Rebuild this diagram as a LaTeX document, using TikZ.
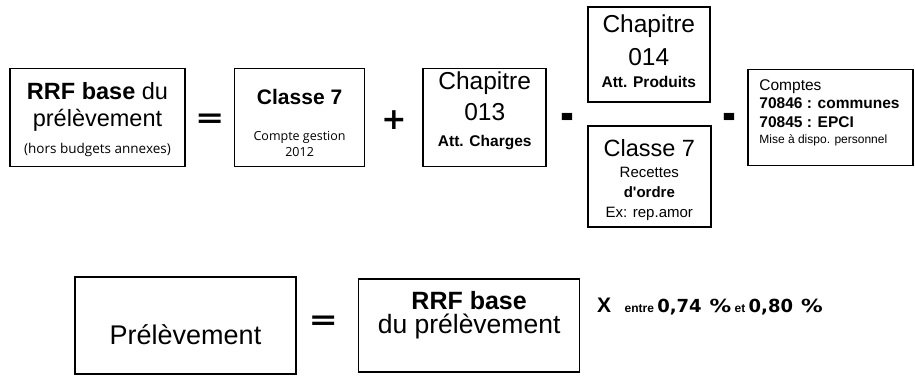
\documentclass[tikz,border=0pt]{standalone}
\usepackage{graphicx}
\usepackage{fontspec}
\setmainfont{Liberation Sans}
\newfontfamily\humfont{Open Sans}
\newfontfamily\widefont{DejaVu Sans}
\usetikzlibrary{positioning, calc}

\newcommand{\fsz}[2]{\fontsize{#1}{#2}\selectfont}

\begin{document}
\begin{tikzpicture}[
  x=1pt, y=-1pt,
  box/.style={rectangle, draw, line width=1.6pt, minimum height=98pt, inner sep=0pt},
  txt/.style={align=center, inner sep=0pt},
  sign/.style={font=\widefont\bfseries\fsz{28}{30}, inner sep=0pt}
]
  \useasboundingbox (0,0) rectangle (915,376);

  % Ligne du haut
  \node[box, minimum width=175pt] (rrf) at (97.5,117.5) {};
  \node[box, minimum width=130pt, right=48pt of rrf] (cl7) {};
  \node[box, minimum width=123pt, right=57pt of cl7] (ch13) {};
  \node[box, minimum width=122pt, minimum height=95pt, right=40pt of ch13, yshift=63pt] (ch14) {};
  \node[box, minimum width=123pt, minimum height=101pt, right=40pt of ch13, yshift=-59pt] (rec) {};
  \node[box, minimum width=165pt, minimum height=96pt] (cpt) at (830.5,117.5) {};

  \node[txt, font=\fsz{23.5}{27}] (rrftxt) at ([yshift=-2.5pt]rrf.center)
    {\textbf{RRF base} du\\prélèvement\\{\humfont\fsz{13.5}{16}(hors budgets annexes)}};
  \node[txt, font=\humfont\fsz{12.5}{16}] (cl7txt) at ([yshift=-5.5pt]cl7.center)
    {{\rmfamily\bfseries\fsz{21}{24}Classe 7}\\[20.5pt]Compte gestion\\2012};
  \node[txt, font=\fsz{24.5}{29}] (ch13txt) at ([yshift=6.8pt]ch13.center)
    {Chapitre\\[2pt]013\\[-3pt]{\bfseries\fsz{15.5}{18}Att. Charges}};
  \node[txt, font=\fsz{24.5}{27}] (ch14txt) at ([yshift=3.2pt]ch14.center)
    {Chapitre\\[6pt]014\\[-5.5pt]{\bfseries\fsz{15.5}{18}Att. Produits}};
  \node[txt, font=\fsz{15}{20}] (rectxt) at ([yshift=-3.7pt]rec.center)
    {{\fsz{23.5}{27}Classe 7}\\[1pt]Recettes\\\textbf{d\textquotesingle ordre}\\Ex: rep.amor};
  \node[txt, align=left, anchor=west, font=\fsz{15.5}{18.5}] (cpttxt) at ([xshift=12pt,yshift=4.5pt]cpt.west)
    {Comptes\\\textbf{70846 : communes}\\\textbf{70845 : EPCI}\\[-2pt]{\fsz{12}{14}Mise à dispo. personnel}};

  % Signes
  \node[sign] (egal) at ($(rrf.east)!0.5!(cl7.west) + (0,3)$) {\scalebox{1.25}[1]{=}};
  \node[sign, font=\widefont\bfseries\fsz{30}{32}] (plus) at ($(cl7.east)!0.5!(ch13.west) + (0,3)$) {+};
  \node[sign] (moins) at ($(ch13.east)!0.5!(ch14.west |- ch13.west) + (0,5)$) {\scalebox{1.2}[1.8]{-}};
  \node[sign] (moinsb) at ($(rec.east |- cpt.west)!0.5!(cpt.west) + (0,5)$) {\scalebox{1.2}[1.8]{-}};

  % Ligne du bas
  \node[box, minimum width=221pt, minimum height=97pt] (prel) at (185.5,325.5) {};
  \node[box, minimum width=221pt, minimum height=93pt, right=61pt of prel] (base) {};
  \node[txt, font=\fsz{27}{30}] (preltxt) at ([yshift=-9pt]prel.center) {Prélèvement};
  \node[txt, font=\fsz{26.5}{24}] (basetxt) at ([yshift=10.8pt]base.center)
    {{\bfseries\fsz{25}{24}RRF base}\\du prélèvement};
  \node[sign] (egalb) at ($(prel.east)!0.5!(base.west) + (-4,-3)$) {\scalebox{1.25}[1]{=}};
  \node[anchor=base west, inner sep=0pt, font=\bfseries\fsz{21}{24}] (fois) at (597,312) {X};
  \node[base right=13pt of fois, inner sep=0pt, font=\bfseries\fsz{12}{14}] (taux)
    {entre {\widefont\fsz{18}{20}0,74\hspace{8pt}\scalebox{1.2}[1]{\%}} et
     {\widefont\fsz{18}{20}0,80\hspace{8pt}\scalebox{1.2}[1]{\%}}};
\end{tikzpicture}
\end{document}
